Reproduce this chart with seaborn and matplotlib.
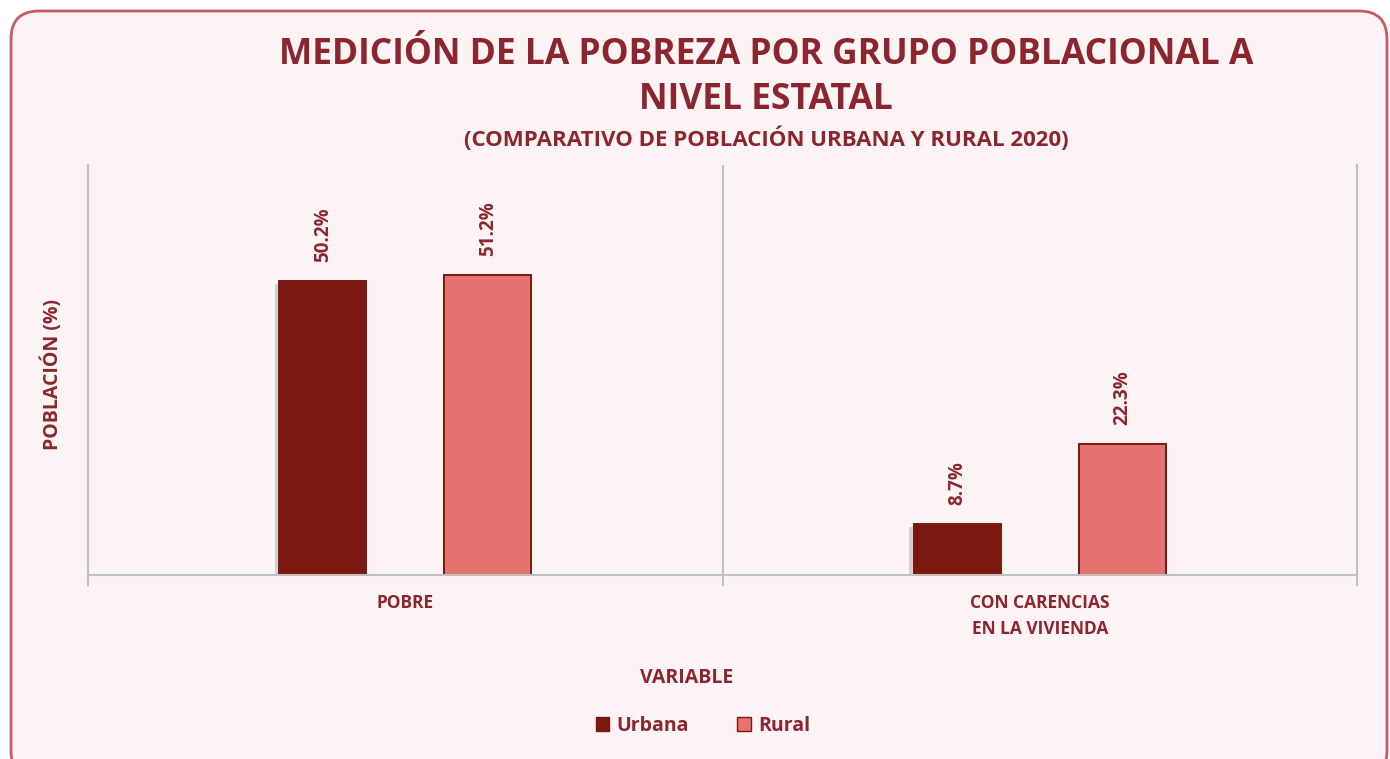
import pandas as pd
import seaborn as sns
import matplotlib.pyplot as plt
from matplotlib.patches import FancyBboxPatch, Patch
from matplotlib.transforms import IdentityTransform
import matplotlib.patheffects as pe

categories = ['POBRE', 'CON CARENCIAS\nEN LA VIVIENDA']
groups = ['Urbana', 'Rural']
urbana = [50.2, 8.7]
rural = [51.2, 22.3]

colors = {'Urbana': '#7B1810', 'Rural': '#E57470'}
text_color = '#8B2630'
bg = '#FCF3F4'

df = pd.DataFrame({
    'variable': categories * 2,
    'grupo': ['Urbana'] * len(categories) + ['Rural'] * len(categories),
    'valor': urbana + rural,
})

sns.set_theme(style='white')
plt.rcParams['font.family'] = ['Open Sans', 'DejaVu Sans']

fig = plt.figure(figsize=(13.9, 7.59), dpi=100, facecolor='white')

# rounded card behind everything
card = FancyBboxPatch((11, -20), 1376, 768, boxstyle='round,pad=0,rounding_size=28',
                      transform=IdentityTransform(), facecolor=bg, edgecolor='#CB5A5E',
                      linewidth=2, zorder=-5)
fig.patches.append(card)

ax = fig.add_axes([88 / 1390, 184 / 759, 1269 / 1390, 410 / 759])
ax.set_facecolor('none')
ax.set_zorder(2)

sns.barplot(data=df, x='variable', y='valor', hue='grupo', order=categories,
            hue_order=groups, palette=colors, saturation=1, width=0.52, gap=0.47,
            edgecolor='#7B1810', linewidth=1.4, ax=ax, legend=False)

ax.set_ylim(0, 70)
ax.set_xlim(-0.5, 1.5)

# shadow on urbana bars
for bar in ax.containers[0]:
    bar.set_path_effects([pe.SimplePatchShadow(offset=(-3, -2), shadow_rgbFace='#8a8a8a', alpha=0.35),
                          pe.Normal()])

# value labels
for cont in ax.containers:
    ax.bar_label(cont, labels=[f'{v:.1f}%' for v in cont.datavalues], rotation=90,
                 padding=14, color=text_color, fontsize=13.5, fontweight='bold')

# separators / spines
ax.spines['top'].set_visible(False)
for s in ['left', 'right', 'bottom']:
    ax.spines[s].set_color('#C0C0C0')
    ax.spines[s].set_linewidth(1.5)
ax.axvline(0.5, color='#C0C0C0', linewidth=1.5)
ax.set_yticks([])
ax.set_xticks(range(len(categories)))
ax.set_xticks([-0.5, 0.5, 1.5], minor=True)
ax.tick_params(axis='x', which='minor', length=8, width=1.5, color='#C0C0C0', bottom=True)
ax.tick_params(axis='x', which='major', length=0, pad=14)
ax.set_xticklabels(categories, color=text_color, fontsize=12.5, fontweight='bold',
                   linespacing=1.55)

ax.set_xlabel('VARIABLE', color=text_color, fontsize=14, fontweight='bold')
ax.xaxis.set_label_coords(0.472, -0.228)
ax.set_ylabel('POBLACIÓN (%)', color=text_color, fontsize=14, fontweight='bold')
ax.yaxis.set_label_coords(-0.02, 0.49)

fig.text(766 / 1390, 1 - 55 / 759, 'MEDICIÓN DE LA POBREZA POR GRUPO POBLACIONAL A',
         ha='center', va='center', color=text_color, fontsize=25.5, fontweight='bold')
fig.text(766 / 1390, 1 - 100 / 759, 'NIVEL ESTATAL',
         ha='center', va='center', color=text_color, fontsize=25.5, fontweight='bold')
fig.text(766 / 1390, 1 - 139 / 759, '(COMPARATIVO DE POBLACIÓN URBANA Y RURAL 2020)',
         ha='center', va='center', color=text_color, fontsize=16, fontweight='bold')

handles = [Patch(facecolor=colors[g], edgecolor='#7B1810', label=g) for g in groups]
leg = fig.legend(handles=handles, loc='center', bbox_to_anchor=(703 / 1390, 33 / 759), ncol=2,
                 frameon=False, handlelength=0.7, handleheight=0.7, handletextpad=0.36,
                 columnspacing=2.5, fontsize=14)
for t in leg.get_texts():
    t.set_color(text_color)
    t.set_fontweight('bold')

fig.savefig('out.png', dpi=100, facecolor='white')
